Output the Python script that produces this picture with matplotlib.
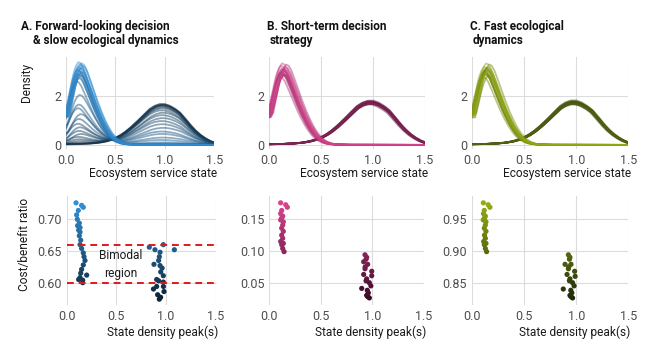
import numpy as np
import matplotlib
matplotlib.use("Agg")
import matplotlib.pyplot as plt
from matplotlib.colors import LinearSegmentedColormap

plt.rcParams["font.family"] = ["Roboto", "DejaVu Sans"]

# --- density profile shapes (one low-state mode, one high-state mode)
low_x = [0.0, 0.025, 0.05, 0.075, 0.1, 0.125, 0.15, 0.175, 0.2, 0.225, 0.25, 0.275,
         0.3, 0.325, 0.35, 0.375, 0.4, 0.425, 0.45, 0.475, 0.5, 0.525, 0.55, 0.575,
         0.6, 0.625, 0.65, 0.7, 0.75, 0.9, 1.1, 1.3, 1.5]
low_y = [1.25, 1.75, 2.25, 2.70, 3.00, 3.15, 3.10, 2.92, 2.65, 2.36, 2.06, 1.78,
         1.52, 1.27, 1.04, 0.83, 0.65, 0.49, 0.36, 0.26, 0.18, 0.12, 0.08, 0.05,
         0.035, 0.025, 0.018, 0.010, 0.006, 0.004, 0.003, 0.002, 0.002]

high_x = [0.0, 0.1, 0.2, 0.3, 0.35, 0.4, 0.45, 0.5, 0.55, 0.6, 0.65, 0.7, 0.75,
          0.8, 0.85, 0.9, 0.95, 1.0, 1.05, 1.1, 1.15, 1.2, 1.25, 1.3, 1.35, 1.4,
          1.45, 1.5]
high_y = [0.03, 0.035, 0.05, 0.08, 0.11, 0.15, 0.21, 0.29, 0.40, 0.54, 0.71, 0.90,
          1.10, 1.31, 1.51, 1.64, 1.71, 1.71, 1.64, 1.52, 1.36, 1.12, 0.86, 0.63,
          0.44, 0.29, 0.17, 0.09]

# --- panel A: forward-looking decision & slow ecological dynamics
ratio_a = [0.575, 0.580, 0.585, 0.590, 0.595, 0.600, 0.605, 0.610, 0.615, 0.620,
           0.625, 0.630, 0.635, 0.640, 0.645, 0.650, 0.655, 0.660, 0.665, 0.670,
           0.675, 0.680, 0.685, 0.690, 0.695, 0.700, 0.705, 0.710, 0.715, 0.720, 0.725]
low_peak_a = [0, 0, 0, 0.02, 0.05, 0.12, 0.2, 0.3, 0.42, 0.55, 0.7, 0.85, 1.05, 1.25,
              1.5, 1.65, 2.05, 2.6, 2.75, 2.85, 2.9, 2.95, 3.0, 3.05, 3.1, 3.15,
              3.2, 3.25, 3.3, 3.35, 3.4]
high_peak_a = [1.62, 1.66, 1.64, 1.68, 1.6, 1.55, 1.5, 1.42, 1.32, 1.22, 1.1, 0.98,
               0.85, 0.7, 0.55, 0.45, 0.3, 0.2, 0.1, 0.06, 0.03, 0.02, 0, 0, 0, 0,
               0, 0, 0, 0, 0]
shift_a = [0.01, -0.01, 0.02, 0.0, -0.02, 0.01, 0.0, -0.01, 0.02, 0.0, 0.01, -0.01,
           0.0, 0.02, -0.01, 0.0, 0.01, -0.02, 0.0, 0.02, -0.01, 0.01, 0.03, 0.0,
           -0.01, 0.02, 0.0, 0.04, 0.01, 0.03, 0.0]

pk_a_x = [0.094, 0.150, 0.167, 0.117, 0.100, 0.107, 0.127, 0.110, 0.134, 0.120,
          0.134, 0.127, 0.141, 0.134, 0.150, 0.167, 0.174, 0.184, 0.167, 0.150,
          0.141, 0.201, 0.134, 0.120, 0.161, 0.161,
          0.831, 0.888, 0.972, 1.083, 0.939, 0.932, 0.925, 0.878, 0.939, 0.960,
          0.946, 0.972, 0.905, 0.925, 0.972, 0.905, 0.873, 0.973, 0.979, 0.915,
          0.945, 0.932]
pk_a_y = [0.726, 0.722, 0.719, 0.714, 0.707, 0.700, 0.694, 0.690, 0.687, 0.683,
          0.680, 0.674, 0.667, 0.660, 0.654, 0.647, 0.641, 0.635, 0.628, 0.621,
          0.615, 0.612, 0.608, 0.605, 0.604, 0.600,
          0.656, 0.652, 0.660, 0.652, 0.648, 0.641, 0.635, 0.629, 0.627, 0.623,
          0.617, 0.611, 0.605, 0.603, 0.601, 0.594, 0.590, 0.594, 0.586, 0.581,
          0.577, 0.574]

# --- panel B: short-term decision strategy
ratio_b = [0.025, 0.030, 0.035, 0.040, 0.045, 0.050, 0.055, 0.060, 0.065, 0.070,
           0.075, 0.080, 0.085, 0.090, 0.095, 0.100, 0.105, 0.110, 0.115, 0.120,
           0.125, 0.130, 0.135, 0.140, 0.145, 0.150, 0.155, 0.160, 0.165, 0.170, 0.175]
low_peak_b = [0] * 15 + [2.85, 3.0, 2.9, 3.1, 3.2, 2.95, 3.05, 3.3, 2.8, 3.15, 3.0,
                         2.9, 3.25, 3.1, 3.35, 3.05]
high_peak_b = [1.72, 1.78, 1.68, 1.75, 1.8, 1.7, 1.74, 1.66, 1.77, 1.72, 1.69, 1.76,
               1.73, 1.82, 1.7] + [0] * 16
shift_b = [0.0, -0.02, 0.01, 0.02, -0.01, 0.0, 0.03, -0.03, 0.01, -0.01, 0.02, 0.0,
           -0.02, 0.01, 0.0, 0.01, -0.01, 0.02, 0.0, 0.03, -0.01, 0.01, 0.04, -0.02,
           0.0, 0.02, 0.01, -0.01, 0.03, 0.0, 0.02]

pk_b_x = [0.110, 0.159, 0.175, 0.120, 0.110, 0.130, 0.120, 0.110, 0.136, 0.130,
          0.120, 0.136, 0.120, 0.130, 0.110, 0.136, 0.120, 0.130, 0.143,
          0.928, 0.944, 0.938, 0.915, 0.954, 0.930, 0.928, 0.993, 0.915, 0.993,
          0.944, 0.938, 0.970, 0.985, 0.896, 0.950, 0.960, 0.944, 0.954, 0.970]
pk_b_y = [0.176, 0.173, 0.169, 0.164, 0.159, 0.155, 0.152, 0.149, 0.146, 0.141,
          0.136, 0.131, 0.125, 0.120, 0.115, 0.112, 0.110, 0.104, 0.099,
          0.094, 0.090, 0.087, 0.083, 0.079, 0.075, 0.072, 0.068, 0.063, 0.061,
          0.056, 0.053, 0.050, 0.045, 0.041, 0.038, 0.034, 0.030, 0.028, 0.026]

# --- panel C: fast ecological dynamics
ratio_c = [0.825, 0.830, 0.835, 0.840, 0.845, 0.850, 0.855, 0.860, 0.865, 0.870,
           0.875, 0.880, 0.885, 0.890, 0.895, 0.900, 0.905, 0.910, 0.915, 0.920,
           0.925, 0.930, 0.935, 0.940, 0.945, 0.950, 0.955, 0.960, 0.965, 0.970, 0.975]
low_peak_c = [0] * 15 + [2.9, 3.05, 2.85, 3.15, 3.2, 3.0, 2.95, 3.3, 2.8, 3.1, 3.05,
                         2.9, 3.2, 3.1, 3.35, 3.0]
high_peak_c = [1.7, 1.76, 1.66, 1.74, 1.8, 1.72, 1.75, 1.68, 1.78, 1.7, 1.71, 1.77,
               1.72, 1.83, 1.69] + [0] * 16
shift_c = [0.01, -0.02, 0.0, 0.02, -0.01, 0.01, 0.03, -0.03, 0.0, -0.01, 0.02, 0.01,
           -0.02, 0.0, 0.01, 0.0, -0.01, 0.03, 0.01, 0.02, -0.01, 0.0, 0.04, -0.02,
           0.01, 0.02, 0.0, -0.01, 0.03, 0.01, 0.02]

pk_c_x = [0.109, 0.155, 0.172, 0.118, 0.110, 0.128, 0.120, 0.108, 0.134, 0.128,
          0.118, 0.134, 0.120, 0.128, 0.112, 0.134, 0.118, 0.128, 0.140,
          0.925, 0.940, 0.935, 0.893, 0.950, 0.928, 0.925, 0.985, 0.912, 0.990,
          0.940, 0.935, 0.965, 0.980, 0.876, 0.948, 0.958, 0.940, 0.950, 0.965]
pk_c_y = [0.976, 0.973, 0.969, 0.964, 0.959, 0.955, 0.952, 0.949, 0.946, 0.941,
          0.936, 0.931, 0.925, 0.920, 0.915, 0.912, 0.910, 0.904, 0.899,
          0.894, 0.890, 0.887, 0.879, 0.879, 0.875, 0.872, 0.868, 0.863, 0.860,
          0.856, 0.853, 0.850, 0.845, 0.840, 0.838, 0.834, 0.830, 0.828, 0.826]

panels = [
    dict(ratio=ratio_a, low=low_peak_a, high=high_peak_a, shift=shift_a,
         px=pk_a_x, py=pk_a_y, c0="#0e2436", c1="#2f8fd8",
         top_pos=[66 / 650, 0.5824, 148.3 / 650, 0.2571],
         bot_pos=[66.7 / 650, 0.146, 149.1 / 650, 0.3036],
         ylim=(0.565, 0.736), yticks=[0.60, 0.65, 0.70]),
    dict(ratio=ratio_b, low=low_peak_b, high=high_peak_b, shift=shift_b,
         px=pk_b_x, py=pk_b_y, c0="#3a0a26", c1="#d9438f",
         top_pos=[269 / 650, 0.5824, 156 / 650, 0.2571],
         bot_pos=[269.3 / 650, 0.146, 154.7 / 650, 0.3036],
         ylim=(0.015, 0.186), yticks=[0.05, 0.10, 0.15]),
    dict(ratio=ratio_c, low=low_peak_c, high=high_peak_c, shift=shift_c,
         px=pk_c_x, py=pk_c_y, c0="#1e2a0b", c1="#95ab12",
         top_pos=[472 / 650, 0.5824, 156.3 / 650, 0.2571],
         bot_pos=[472 / 650, 0.146, 156.3 / 650, 0.3036],
         ylim=(0.815, 0.986), yticks=[0.85, 0.90, 0.95]),
]

tick_col = "#4d4d4d"
grid_col = "#dcdcdc"


def style(ax):
    for s in ax.spines.values():
        s.set_visible(False)
    ax.grid(True, color=grid_col, lw=0.8)
    ax.set_axisbelow(True)
    ax.tick_params(length=0, labelsize=9, labelcolor=tick_col, pad=3.5)
    ax.set_xlim(0, 1.5)
    ax.set_xticks([0, 0.5, 1.0, 1.5])
    ax.set_xticklabels(["0.0", "0.5", "1.0", "1.5"])


fig = plt.figure(figsize=(6.5, 3.57), dpi=100)

grid = np.linspace(0, 1.5, 301)
for p in panels:
    cmap = LinearSegmentedColormap.from_list("g", [p["c0"], p["c1"]])
    rmin, rmax = min(p["ratio"]), max(p["ratio"])

    ax = fig.add_axes(p["top_pos"])
    style(ax)
    for r, lo, hi, sh in zip(p["ratio"], p["low"], p["high"], p["shift"]):
        dens = (lo / max(low_y)) * np.interp(grid - sh, low_x, low_y) \
            + (hi / max(high_y)) * np.interp(grid - sh * 0.5, high_x, high_y)
        ax.plot(grid, dens, color=cmap((r - rmin) / (rmax - rmin)), lw=1.3, alpha=0.5)
    ax.set_ylim(-0.17, 3.6)
    ax.set_yticks([0, 2])

    bx = fig.add_axes(p["bot_pos"])
    style(bx)
    order = np.argsort(p["py"])
    xs = np.array(p["px"])[order]
    ys = np.array(p["py"])[order]
    bx.scatter(xs, ys, c=ys, cmap=cmap, vmin=rmin, vmax=rmax, s=14,
               edgecolors="none", zorder=3)
    bx.set_ylim(*p["ylim"])
    bx.set_yticks(p["yticks"])
    bx.set_yticklabels([f"{v:.2f}" for v in p["yticks"]])

    # axis titles right-aligned under each panel
    right = (p["top_pos"][0] + p["top_pos"][2]) * 650 + 3
    fig.text(right / 650, 1 - 173.5 / 357, "Ecosystem service state", ha="right",
             va="center", fontsize=8.6, color="#1a1a1a")
    right = (p["bot_pos"][0] + p["bot_pos"][2]) * 650 + 2
    fig.text(right / 650, 1 - 332 / 357, "State density peak(s)", ha="right",
             va="center", fontsize=8.6, color="#1a1a1a")

    if p is panels[0]:
        for yv in [0.60, 0.66]:
            bx.axhline(yv, color="#e0191c", lw=1.4, ls=(0, (3.5, 2.5)), zorder=4)
        bx.text(0.54, 0.629, "Bimodal\nregion", ha="center", va="center",
                fontsize=8.6, color="#1a1a1a", linespacing=1.5)

fig.text(27 / 650, 1 - 82 / 357, "Density", rotation=90, ha="center", va="center",
         fontsize=8.6, color="#1a1a1a")
fig.text(25 / 650, 1 - 244 / 357, "Cost/benefit ratio", rotation=90, ha="center",
         va="center", fontsize=8.6, color="#1a1a1a")

titles = [
    (20.7, 33, "A. Forward-looking decision", "& slow ecological dynamics"),
    (266.7, 270, "B. Short-term decision", "strategy"),
    (470, 473, "C. Fast ecological", "dynamics"),
]
for x1, x2, l1, l2 in titles:
    fig.text(x1 / 650, 1 - 30 / 357, l1, ha="left", va="baseline", fontsize=8.5,
             fontweight="bold", color="#111111")
    fig.text(x2 / 650, 1 - 44 / 357, l2, ha="left", va="baseline", fontsize=8.5,
             fontweight="bold", color="#111111")

fig.savefig("out.png", dpi=100)
